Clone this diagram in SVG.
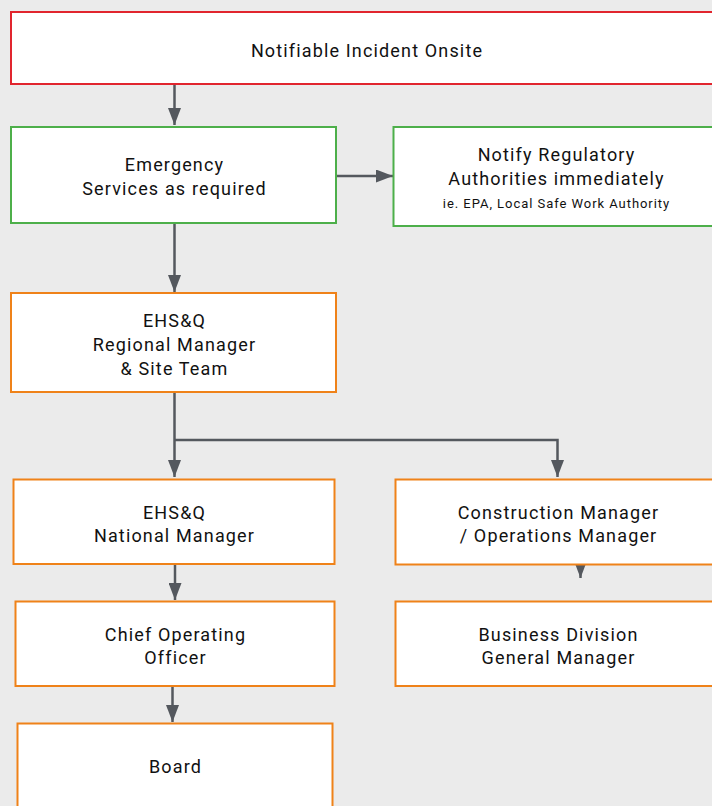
<svg xmlns="http://www.w3.org/2000/svg" width="712" height="806" viewBox="0 0 712 806">
<defs>
<style>
.bg{fill:#EBEBEB}
.box{fill:#FFFFFF;stroke-width:2}
.red{stroke:#E1252E}
.green{stroke:#4DAF4A}
.orange{stroke:#EF8219}
.t{font-family:Roboto,"Liberation Sans",sans-serif;font-size:18px;font-weight:400;fill:#111111;text-anchor:middle;letter-spacing:1.15px}
.s{font-size:13px;letter-spacing:0.95px}
.c{fill:none;stroke:#54585E;stroke-width:2.5}
</style>
<marker id="ah" markerUnits="userSpaceOnUse" markerWidth="17" markerHeight="13" refX="17" refY="6.5" orient="auto">
<path d="M0,0 L17,6.5 L0,13 z" fill="#54585E"/>
</marker>
</defs>
<rect class="bg" x="0" y="0" width="712" height="806"/>
<g id="connectors">
<path class="c" d="M174.5,85 V125" marker-end="url(#ah)"/>
<path class="c" d="M336,176 H393" marker-end="url(#ah)"/>
<path class="c" d="M174.5,223 V292" marker-end="url(#ah)"/>
<path class="c" d="M174.5,392 V477" marker-end="url(#ah)"/>
<path class="c" d="M174.5,440 H557.5 V477" marker-end="url(#ah)"/>
<path class="c" d="M580.5,562 V578" marker-end="url(#ah)"/>
<path class="c" d="M175,564 V600" marker-end="url(#ah)"/>
<path class="c" d="M172.5,686 V722" marker-end="url(#ah)"/>
</g>
<g id="n-incident">
<rect class="box red" x="11" y="12" width="710" height="72"/>
<text class="t" x="367" y="56.5">Notifiable Incident Onsite</text>
</g>
<g id="n-emergency">
<rect class="box green" x="11" y="127" width="325" height="96"/>
<text class="t" x="174.5" y="170.5">Emergency</text>
<text class="t" x="174.5" y="194.5">Services as required</text>
</g>
<g id="n-regulatory">
<rect class="box green" x="393.5" y="127" width="325" height="99"/>
<text class="t" x="556.5" y="160.5">Notify Regulatory</text>
<text class="t" x="556.5" y="184.5">Authorities immediately</text>
<text class="t s" x="556.5" y="208">ie. EPA, Local Safe Work Authority</text>
</g>
<g id="n-regional">
<rect class="box orange" x="11" y="293" width="325" height="99"/>
<text class="t" x="174.5" y="327">EHS&amp;Q</text>
<text class="t" x="174.5" y="350.5">Regional Manager</text>
<text class="t" x="174.5" y="374.5">&amp; Site Team</text>
</g>
<g id="n-national">
<rect class="box orange" x="13.5" y="479.5" width="321" height="84.5"/>
<text class="t" x="174.5" y="518.5">EHS&amp;Q</text>
<text class="t" x="174.5" y="542">National Manager</text>
</g>
<g id="n-construction">
<rect class="box orange" x="395.5" y="479.5" width="325" height="85"/>
<text class="t" x="558.5" y="518.5">Construction Manager</text>
<text class="t" x="558.5" y="542">/ Operations Manager</text>
</g>
<g id="n-coo">
<rect class="box orange" x="15.5" y="601.5" width="319" height="84.5"/>
<text class="t" x="175.5" y="641">Chief Operating</text>
<text class="t" x="175.5" y="663.5">Officer</text>
</g>
<g id="n-business">
<rect class="box orange" x="395.5" y="601.5" width="325" height="84.5"/>
<text class="t" x="558.5" y="640.5">Business Division</text>
<text class="t" x="558.5" y="663.5">General Manager</text>
</g>
<g id="n-board">
<rect class="box orange" x="17.5" y="723.5" width="315" height="100"/>
<text class="t" x="175.5" y="773">Board</text>
</g>
</svg>
